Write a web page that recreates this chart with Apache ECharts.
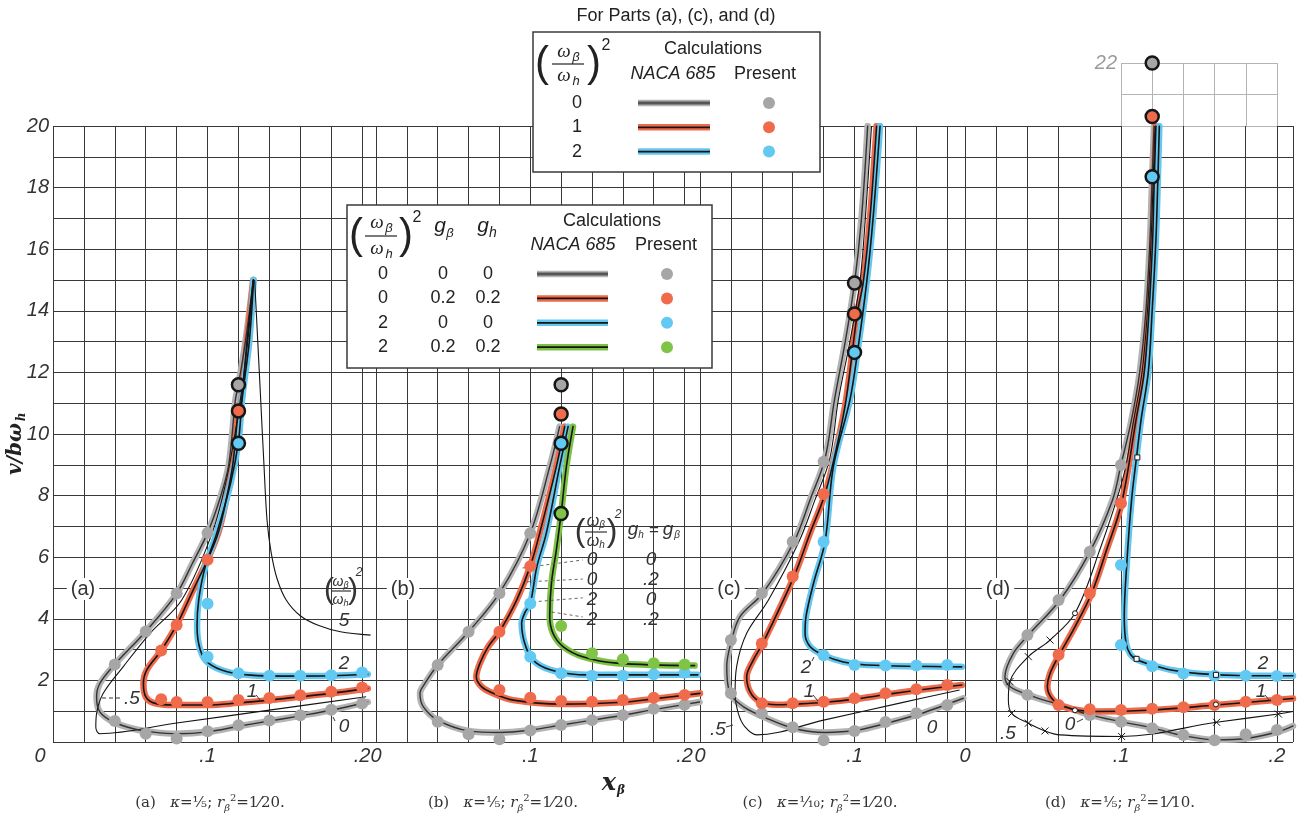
<!DOCTYPE html>
<html>
<head>
<meta charset="utf-8">
<script src="https://cdn.jsdelivr.net/npm/echarts/dist/echarts.min.js"></script>
<style>
  html, body { margin: 0; padding: 0; background: #fff; }
  #chart { width: 1305px; height: 821px; }
</style>
</head>
<body>
<div id="chart"></div>
<script>
// ---------------- tick labels / texts ----------------
const xTickValues = [0, 0.1, 0.2];
const xTickLabels = ['0', '.1', '.2'];
const yTickLabels = ['2', '4', '6', '8', '10', '12', '14', '16', '18', '20'];
const panelNames = ['(a)', '(b)', '(c)', '(d)'];
const captionKappa = ['⅕', '⅕', '⅒', '⅕'];
const captionRb2 = ['1⁄20', '1⁄20', '1⁄20', '1⁄10'];
const legendTopRatio = ['0', '1', '2'];
const legendBRatio = ['0', '0', '2', '2'];
const legendBGbeta = ['0', '0.2', '0', '0.2'];
const legendBGh = ['0', '0.2', '0', '0.2'];
const blockRatio = ['0', '0', '2', '2'];
const blockG = ['0', '.2', '0', '.2'];

// ---------------- panel (a): kappa=1/5, r^2=1/20 ----------------
const aNaca0 = [[0.1296,15.0],[0.1245,13.0],[0.1200,11.6],[0.1180,11.1],[0.1137,9.0],[0.1080,7.9],[0.1000,6.79],[0.0900,5.78],[0.0800,4.82],[0.0600,3.59],[0.0400,2.52],[0.0303,1.90],[0.0282,1.47],[0.0303,0.98],[0.0390,0.65],[0.0520,0.43],[0.0650,0.32],[0.0800,0.27],[0.1000,0.33],[0.1200,0.51],[0.1400,0.68],[0.1600,0.85],[0.1800,1.03],[0.2037,1.30]];
const aNaca1 = [[0.1296,15.0],[0.1255,13.0],[0.1220,11.1],[0.1200,10.75],[0.1163,9.0],[0.1122,7.9],[0.1070,6.8],[0.1000,5.92],[0.0900,4.86],[0.0800,3.80],[0.0700,2.97],[0.0607,2.34],[0.0585,1.90],[0.0600,1.47],[0.0650,1.27],[0.0780,1.20],[0.1000,1.20],[0.1200,1.27],[0.1400,1.36],[0.1600,1.47],[0.1800,1.58],[0.2037,1.74]];
const aNaca2 = [[0.1298,15.0],[0.1270,13.0],[0.1224,11.14],[0.1200,9.75],[0.1150,8.42],[0.1060,6.79],[0.0986,5.71],[0.0943,4.62],[0.0932,3.75],[0.0953,2.99],[0.1008,2.55],[0.1127,2.28],[0.1280,2.17],[0.1495,2.14],[0.1800,2.15],[0.2037,2.20]];
const aThin05 = [[0.1296,15.0],[0.1260,13.0],[0.1213,11.14],[0.1130,8.7],[0.1030,6.79],[0.0834,4.62],[0.0628,3.53],[0.0455,2.45],[0.0325,1.58],[0.0282,0.92],[0.0277,0.49],[0.0303,0.27],[0.0800,0.616],[0.1400,1.034],[0.2026,1.47]];
const aThin5 = [[0.1305,15.0],[0.1325,13.0],[0.1345,11.0],[0.1365,9.0],[0.1385,7.2],[0.1410,6.2],[0.1450,5.3],[0.1510,4.6],[0.1600,4.1],[0.1720,3.78],[0.1860,3.58],[0.2055,3.47]];
const aPres0 = [[0.04,2.52],[0.06,3.59],[0.08,4.82],[0.10,6.79],[0.04,0.68],[0.06,0.27],[0.08,0.11],[0.10,0.35],[0.12,0.54],[0.14,0.70],[0.16,0.87],[0.18,1.05],[0.20,1.25]];
const aPres1 = [[0.10,5.92],[0.08,3.80],[0.07,2.97],[0.07,1.39],[0.08,1.30],[0.10,1.30],[0.12,1.36],[0.14,1.43],[0.16,1.52],[0.18,1.63],[0.20,1.77]];
const aPres2 = [[0.10,4.49],[0.10,2.77],[0.12,2.23],[0.14,2.15],[0.16,2.15],[0.18,2.17],[0.20,2.26]];
const aRing0 = [[0.12,11.6]];
const aRing1 = [[0.12,10.75]];
const aRing2 = [[0.12,9.7]];

// ---------------- panel (b): damping cases ----------------
const bNaca0 = [[0.1190,10.24],[0.1126,8.94],[0.1000,6.78],[0.0800,4.83],[0.0600,3.58],[0.0400,2.50],[0.0317,1.90],[0.0285,1.58],[0.0306,1.15],[0.0403,0.70],[0.0600,0.36],[0.0803,0.31],[0.1000,0.39],[0.1200,0.55],[0.1400,0.71],[0.1600,0.87],[0.1800,1.05],[0.2097,1.30]];
const bNaca1 = [[0.1223,10.24],[0.1169,8.94],[0.1061,6.78],[0.1000,5.71],[0.0911,4.60],[0.0800,3.58],[0.0727,3.09],[0.0673,2.55],[0.0650,2.12],[0.0684,1.80],[0.0760,1.58],[0.0890,1.36],[0.1200,1.23],[0.1600,1.29],[0.1800,1.40],[0.2100,1.58]];
const bNaca2 = [[0.1245,10.24],[0.1190,8.94],[0.1104,6.78],[0.1043,5.70],[0.1000,4.50],[0.0965,4.20],[0.0944,3.85],[0.0975,3.04],[0.1040,2.56],[0.1170,2.29],[0.1364,2.18],[0.2086,2.18]];
const bNaca3 = [[0.1277,10.24],[0.1234,8.94],[0.1200,7.42],[0.1169,6.24],[0.1137,5.16],[0.1126,4.08],[0.1147,3.53],[0.1212,3.10],[0.1340,2.77],[0.1560,2.56],[0.2065,2.48]];
const bPres0 = [[0.04,2.50],[0.06,3.58],[0.08,4.83],[0.10,6.78],[0.04,0.66],[0.06,0.25],[0.08,0.09],[0.10,0.37],[0.12,0.55],[0.14,0.71],[0.16,0.87],[0.18,1.08],[0.20,1.21]];
const bPres1 = [[0.10,5.71],[0.08,3.58],[0.08,1.69],[0.10,1.44],[0.12,1.33],[0.14,1.31],[0.16,1.36],[0.18,1.44],[0.20,1.53]];
const bPres2 = [[0.10,4.50],[0.10,2.77],[0.12,2.23],[0.14,2.15],[0.16,2.15],[0.18,2.20],[0.20,2.25]];
const bPres3 = [[0.12,3.77],[0.14,2.88],[0.16,2.69],[0.18,2.56],[0.20,2.52]];
const bRing0 = [[0.12,11.6]];
const bRing1 = [[0.12,10.65]];
const bRing2 = [[0.12,9.7]];
const bRing3 = [[0.12,7.42]];
const bLeader1 = [[0.095,5.65],[0.134,5.91]];
const bLeader2 = [[0.0977,5.20],[0.134,5.29]];
const bLeader3 = [[0.1016,4.55],[0.134,4.68]];
const bLeader4 = [[0.1139,4.22],[0.134,4.06]];

// ---------------- panel (c): kappa=1/10, r^2=1/20 ----------------
const cNaca0 = [[0.1085,20.0],[0.1045,17.0],[0.1000,14.9],[0.0940,13.0],[0.0870,11.1],[0.0809,9.2],[0.0712,7.86],[0.0608,6.50],[0.0406,4.83],[0.0259,4.07],[0.0205,3.31],[0.0173,2.45],[0.0194,1.58],[0.0280,1.15],[0.0431,0.77],[0.0608,0.44],[0.0809,0.31],[0.1014,0.38],[0.1215,0.62],[0.1417,0.90],[0.1704,1.42]];
const cThin05 = [[0.1110,20.0],[0.1070,17.0],[0.1035,14.94],[0.0970,13.0],[0.0895,11.1],[0.0840,9.2],[0.0744,7.86],[0.0640,6.50],[0.0442,4.60],[0.0302,3.53],[0.0237,2.45],[0.0227,1.58],[0.0248,0.93],[0.0290,0.50],[0.0367,0.23],[0.0800,0.71],[0.1300,1.27],[0.1680,1.69]];
const cNaca1 = [[0.1143,20.0],[0.1100,17.0],[0.1057,14.94],[0.1018,13.92],[0.0945,11.1],[0.0890,9.7],[0.0809,8.05],[0.0712,6.78],[0.0608,5.37],[0.0406,3.20],[0.0345,2.66],[0.0302,2.12],[0.0324,1.63],[0.0388,1.31],[0.0496,1.21],[0.0608,1.23],[0.0809,1.29],[0.1014,1.40],[0.1215,1.55],[0.1417,1.69],[0.1694,1.85]];
const cNaca2 = [[0.1165,20.0],[0.1120,17.0],[0.1079,14.94],[0.1019,12.65],[0.0970,11.1],[0.0863,8.94],[0.0809,6.50],[0.0734,5.14],[0.0686,4.07],[0.0680,3.53],[0.0712,3.10],[0.0798,2.82],[0.0928,2.60],[0.1079,2.50],[0.1694,2.44]];
const cPres0 = [[0.08,9.10],[0.06,6.50],[0.04,4.83],[0.02,3.31],[0.02,1.58],[0.04,0.93],[0.06,0.48],[0.08,0.06],[0.10,0.36],[0.12,0.65],[0.14,0.93],[0.16,1.20]];
const cPres1 = [[0.08,8.05],[0.06,5.37],[0.04,3.20],[0.04,1.26],[0.06,1.26],[0.08,1.31],[0.10,1.42],[0.12,1.58],[0.14,1.71],[0.16,1.85]];
const cPres2 = [[0.08,6.50],[0.08,2.82],[0.10,2.50],[0.12,2.48],[0.14,2.48],[0.16,2.50]];
const cRing0 = [[0.10,14.9]];
const cRing1 = [[0.10,13.9]];
const cRing2 = [[0.10,12.65]];

// ---------------- panel (d): kappa=1/5, r^2=1/10 ----------------
const dNaca0 = [[0.1212,20.0],[0.1198,18.0],[0.1186,16.3],[0.1160,14.0],[0.1120,12.0],[0.1065,10.4],[0.1000,9.0],[0.0946,7.86],[0.0801,6.18],[0.0609,4.61],[0.0406,3.47],[0.0310,2.88],[0.0256,2.12],[0.0288,1.80],[0.0406,1.53],[0.0609,1.20],[0.0801,0.88],[0.1000,0.66],[0.1207,0.45],[0.1404,0.20],[0.1609,0.07],[0.1809,0.12],[0.2013,0.34],[0.2103,0.52]];
const dNaca1 = [[0.1224,20.0],[0.1212,18.0],[0.1203,16.3],[0.1180,14.0],[0.1149,12.0],[0.1098,10.5],[0.1004,7.75],[0.0908,6.24],[0.0812,4.83],[0.0705,3.74],[0.0609,2.87],[0.0545,2.22],[0.0528,1.80],[0.0556,1.42],[0.0631,1.15],[0.0823,0.99],[0.1207,1.04],[0.1609,1.20],[0.2103,1.41]];
const dNaca2 = [[0.1246,20.0],[0.1235,18.0],[0.1224,16.3],[0.1200,14.0],[0.1175,12.0],[0.1130,10.5],[0.1100,9.26],[0.1068,7.86],[0.1036,5.69],[0.1021,4.07],[0.1033,3.20],[0.1060,2.85],[0.1100,2.68],[0.1200,2.50],[0.1330,2.33],[0.1500,2.22],[0.1750,2.16],[0.2103,2.15]];
const dThin05 = [[0.1218,20.0],[0.1205,18.0],[0.1193,16.3],[0.1170,14.0],[0.1135,12.0],[0.1080,10.4],[0.1015,8.61],[0.0860,6.18],[0.0705,4.18],[0.0545,3.31],[0.0406,2.77],[0.0288,1.96],[0.0278,1.37],[0.0299,0.93],[0.0406,0.61],[0.0513,0.36],[0.0609,0.23],[0.1004,0.18],[0.1613,0.64],[0.2009,0.91],[0.2103,0.99]];
const dCross = [[0.0545,3.31],[0.0406,2.77],[0.0288,1.96],[0.0299,0.93],[0.0406,0.61],[0.0513,0.36],[0.1004,0.18],[0.1613,0.64],[0.2009,0.91]];
const dSmallCircle = [[0.0705,4.18],[0.0705,1.03],[0.1609,1.22]];
const dSmallSquare = [[0.1105,9.24],[0.1100,2.70],[0.1609,2.18]];
const dPres0 = [[0.10,8.99],[0.08,6.18],[0.06,4.61],[0.04,3.47],[0.04,1.53],[0.08,0.88],[0.10,0.66],[0.12,0.45],[0.14,0.23],[0.16,0.06],[0.18,0.25],[0.20,0.39]];
const dPres1 = [[0.10,7.75],[0.08,4.83],[0.06,2.83],[0.06,1.20],[0.08,1.06],[0.10,1.04],[0.12,1.08],[0.14,1.13],[0.16,1.20],[0.18,1.31],[0.20,1.36]];
const dPres2 = [[0.10,5.75],[0.10,3.15],[0.12,2.46],[0.14,2.22],[0.16,2.15],[0.18,2.15],[0.20,2.14]];
const dRing2 = [[0.12,18.35]];
// values above v/bw_h = 20 go on the extension strip
const eRing0 = [[0.12,22.0]];
const eRing1 = [[0.12,20.3]];

// ---------------- styling ----------------
const GRID_COLOR = '#383838';
const SMOOTH = 0.35;
const HALO = { gray: '#b3b3b3', red: '#ee6a4b', blue: '#63c7ef', green: '#7cc144' };
const CORE = { gray: '#333333', red: '#151515', blue: '#151515', green: '#151515' };
const DOT = { gray: '#a6a6a6', red: '#f06b4b', blue: '#62c9f3', green: '#80c447' };
const HAND = '"Liberation Sans"';
const INK = '#333';

const near = (a, b) => Math.abs(a - b) < 1e-6;

// panel frames: left edge / width in px, x extent
const frames = [
  { left: 53,  width: 323, xmax: 0.209,  labelled: [0, 1, 2] },
  { left: 376, width: 324, xmax: 0.21,   labelled: [0, 1, 2] },
  { left: 700, width: 265, xmax: 0.1715, labelled: [0, 1] },
  { left: 965, width: 328, xmax: 0.2103, labelled: [0, 1, 2] }
];

const grids = frames.map(f => ({ left: f.left, top: 126, width: f.width, height: 616, containLabel: false, outerBoundsMode: 'none' }));
grids.push({ left: 1121, top: 63, width: 156, height: 63, containLabel: false, outerBoundsMode: 'none' });

const labelFont = { color: INK, fontStyle: 'italic', fontFamily: HAND, fontSize: 20 };

const xAxes = frames.map((f, gi) => ({
  type: 'value', gridIndex: gi, min: 0, max: f.xmax, interval: 0.02,
  axisLine: { show: false }, axisTick: { show: false },
  splitLine: { show: true, lineStyle: { color: GRID_COLOR, width: 1 } },
  axisLabel: Object.assign({
    show: true, margin: 4, hideOverlap: false, showMinLabel: true, showMaxLabel: true,
    formatter: v => {
      const k = xTickValues.findIndex(t => near(t, v));
      if (k < 0 || !f.labelled.includes(k)) return '';
      return (gi === 0 && k === 0) ? '{z|0}' : xTickLabels[k];
    },
    rich: { z: Object.assign({ padding: [0, 26, 0, 0] }, labelFont) }
  }, labelFont)
}));
xAxes.push({
  type: 'value', gridIndex: 4, min: 0.1, max: 0.2, interval: 0.02,
  axisLine: { show: false }, axisTick: { show: false }, axisLabel: { show: false },
  splitLine: { show: true, lineStyle: { color: '#b4b4b4', width: 1 } }
});

const yAxes = frames.map((f, gi) => ({
  type: 'value', gridIndex: gi, min: 0, max: 20, interval: 1,
  axisLine: { show: false }, axisTick: { show: false },
  splitLine: { show: true, lineStyle: { color: GRID_COLOR, width: 1 } },
  axisLabel: Object.assign({
    show: gi === 0, margin: 4, showMinLabel: true, showMaxLabel: true,
    formatter: v => { const s = String(v); return yTickLabels.includes(s) ? s : ''; }
  }, labelFont)
}));
yAxes.push({
  type: 'value', gridIndex: 4, min: 20, max: 22, interval: 1,
  axisLine: { show: false }, axisTick: { show: false },
  splitLine: { show: true, lineStyle: { color: '#b4b4b4', width: 1 } },
  axisLabel: Object.assign({}, labelFont, { show: true, margin: 4, color: '#9a9a9a', showMaxLabel: true,
    formatter: v => (v === 22 ? '22' : '') })
});

// ---------------- series builders ----------------
const series = [];
function naca(gi, data, key) {
  series.push({ type: 'line', xAxisIndex: gi, yAxisIndex: gi, data, smooth: SMOOTH, symbol: 'none', silent: true, z: 2,
    animation: false, lineStyle: { color: HALO[key], width: 6.5, cap: 'round', join: 'round' } });
  series.push({ type: 'line', xAxisIndex: gi, yAxisIndex: gi, data, smooth: SMOOTH, symbol: 'none', silent: true, z: 3,
    animation: false, lineStyle: { color: CORE[key], width: key === 'gray' ? 1.4 : 1.6, cap: 'round', join: 'round' } });
}
function thin(gi, data, type) {
  series.push({ type: 'line', xAxisIndex: gi, yAxisIndex: gi, data, smooth: SMOOTH, symbol: 'none', silent: true, z: 3,
    animation: false, lineStyle: { color: '#141414', width: 1.1, type: type || 'solid' } });
}
function leader(gi, data) {
  series.push({ type: 'line', xAxisIndex: gi, yAxisIndex: gi, data, symbol: 'none', silent: true, z: 3,
    animation: false, lineStyle: { color: '#555', width: 0.9, type: [3, 3] } });
}
function dots(gi, data, key) {
  series.push({ type: 'scatter', xAxisIndex: gi, yAxisIndex: gi, data, symbol: 'circle', symbolSize: 12, silent: true, z: 5,
    animation: false, itemStyle: { color: DOT[key], opacity: 1 } });
}
function rings(gi, data, key) {
  series.push({ type: 'scatter', xAxisIndex: gi, yAxisIndex: gi, data, symbol: 'circle', symbolSize: 13, silent: true, z: 6,
    animation: false, itemStyle: { color: DOT[key], borderColor: '#161616', borderWidth: 2.5, opacity: 1 } });
}
function marks(gi, data, symbol, size) {
  series.push({ type: 'scatter', xAxisIndex: gi, yAxisIndex: gi, data, symbol, symbolSize: size, silent: true, z: 6,
    animation: false, itemStyle: { color: symbol.startsWith('path') ? 'none' : '#fff', borderColor: '#161616', borderWidth: 1, opacity: 1 } });
}

// (a)
thin(0, aThin05); thin(0, aThin5);
naca(0, aNaca0, 'gray'); naca(0, aNaca1, 'red'); naca(0, aNaca2, 'blue');
dots(0, aPres0, 'gray'); dots(0, aPres1, 'red'); dots(0, aPres2, 'blue');
rings(0, aRing0, 'gray'); rings(0, aRing1, 'red'); rings(0, aRing2, 'blue');
// (b)
naca(1, bNaca0, 'gray'); naca(1, bNaca1, 'red'); naca(1, bNaca2, 'blue'); naca(1, bNaca3, 'green');
leader(1, bLeader1); leader(1, bLeader2); leader(1, bLeader3); leader(1, bLeader4);
dots(1, bPres0, 'gray'); dots(1, bPres1, 'red'); dots(1, bPres2, 'blue'); dots(1, bPres3, 'green');
rings(1, bRing0, 'gray'); rings(1, bRing1, 'red'); rings(1, bRing2, 'blue'); rings(1, bRing3, 'green');
// (c)
thin(2, cThin05);
naca(2, cNaca0, 'gray'); naca(2, cNaca1, 'red'); naca(2, cNaca2, 'blue');
dots(2, cPres0, 'gray'); dots(2, cPres1, 'red'); dots(2, cPres2, 'blue');
rings(2, cRing0, 'gray'); rings(2, cRing1, 'red'); rings(2, cRing2, 'blue');
// (d)
thin(3, dThin05);
naca(3, dNaca0, 'gray'); naca(3, dNaca1, 'red'); naca(3, dNaca2, 'blue');
marks(3, dCross, 'path://M0,0L10,10M10,0L0,10', 7);
marks(3, dSmallCircle, 'circle', 5);
marks(3, dSmallSquare, 'rect', 5);
dots(3, dPres0, 'gray'); dots(3, dPres1, 'red'); dots(3, dPres2, 'blue');
rings(3, dRing2, 'blue');
rings(4, eRing0, 'gray'); rings(4, eRing1, 'red');

// ---------------- annotation graphics ----------------
const G = [];
function txt(x, y, text, font, extra) {
  G.push({ type: 'text', x, y, z: 60, silent: true,
    style: Object.assign({ text, font, fill: INK, align: 'center', verticalAlign: 'middle' }, extra || {}) });
}
function seg(x1, y1, x2, y2, stroke, w, z) {
  G.push({ type: 'line', z: z || 58, silent: true, shape: { x1, y1, x2, y2 }, style: { stroke, lineWidth: w } });
}
function box(x, y, w, h) {
  G.push({ type: 'rect', z: 50, silent: true, shape: { x, y, width: w, height: h }, style: { fill: '#fff', stroke: '#3a3a3a', lineWidth: 1.5 } });
}
// (omega_beta / omega_h)^2 group
function ratio(cx, cy, o) {
  txt(cx - o.pdx, cy, '(', `${o.ps}px ${o.pf}`, { fill: o.c });
  txt(cx + o.pdx, cy, ')', `${o.ps}px ${o.pf}`, { fill: o.c });
  txt(cx - o.sx, cy - o.gap, 'ω', `italic ${o.ws}px ${o.wf}`, { fill: o.c });
  txt(cx + o.sx2, cy - o.gap + o.sdy, 'β', `italic ${o.ss}px ${o.sf}`, { fill: o.c });
  seg(cx - o.bh, cy, cx + o.bh, cy, o.c, 1.2, 60);
  txt(cx - o.sx, cy + o.gap, 'ω', `italic ${o.ws}px ${o.wf}`, { fill: o.c });
  txt(cx + o.sx2, cy + o.gap + o.sdy, 'h', `italic ${o.ss}px ${o.sf}`, { fill: o.c });
  txt(cx + o.pdx + o.qx, cy - o.qy, '2', `${o.qi ? 'italic ' : ''}${o.qs}px ${o.qf}`, { fill: o.c });
}

// legend for parts (a), (c), (d)
txt(676, 16, 'For Parts (a), (c), and (d)', '18px "Liberation Sans"', { fill: '#222' });
box(533, 32, 287, 140);
ratio(568, 64, { pdx: 26, ps: 42, pf: '"Liberation Sans"', c: '#222', gap: 12, ws: 19, wf: '"Liberation Serif"', sx: 4, sx2: 8, sdy: 5,
  ss: 13, sf: '"Liberation Sans"', bh: 16, qx: 12, qy: 18, qs: 16, qf: '"Liberation Sans"' });
txt(713, 49, 'Calculations', '18px "Liberation Sans"', { fill: '#222' });
txt(673, 74, 'NACA 685', 'italic 18px "Liberation Sans"', { fill: '#222' });
txt(765, 74, 'Present', '18px "Liberation Sans"', { fill: '#222' });
const topKeys = ['gray', 'red', 'blue'];
legendTopRatio.forEach((r, i) => {
  const y = 103 + i * 24.3;
  txt(577, y, r, '18px "Liberation Sans"', { fill: '#222' });
  seg(638, y, 710, y, HALO[topKeys[i]], 6.5, 59);
  seg(638, y, 710, y, i === 0 ? '#555' : '#151515', i === 0 ? 3 : 1.8, 60);
  G.push({ type: 'circle', z: 60, silent: true, shape: { cx: 769, cy: y, r: 6 }, style: { fill: DOT[topKeys[i]] } });
});

// legend for part (b)
box(347, 205, 365, 163);
ratio(381, 236, { pdx: 25, ps: 42, pf: '"Liberation Sans"', c: '#222', gap: 13, ws: 19, wf: '"Liberation Serif"', sx: 4, sx2: 8, sdy: 5,
  ss: 13, sf: '"Liberation Sans"', bh: 16, qx: 11, qy: 18, qs: 16, qf: '"Liberation Sans"' });
txt(440, 226, 'g', 'italic 21px "Liberation Sans"', { fill: '#222' });
txt(450, 233, 'β', 'italic 13px "Liberation Sans"', { fill: '#222' });
txt(483, 226, 'g', 'italic 21px "Liberation Sans"', { fill: '#222' });
txt(493, 233, 'h', 'italic 14px "Liberation Sans"', { fill: '#222' });
txt(612, 221, 'Calculations', '18px "Liberation Sans"', { fill: '#222' });
txt(573, 245, 'NACA 685', 'italic 18px "Liberation Sans"', { fill: '#222' });
txt(666, 245, 'Present', '18px "Liberation Sans"', { fill: '#222' });
const bKeys = ['gray', 'red', 'blue', 'green'];
legendBRatio.forEach((r, i) => {
  const y = 274 + i * 24.4;
  txt(383, y, r, '18px "Liberation Sans"', { fill: '#222' });
  txt(443, y, legendBGbeta[i], '18px "Liberation Sans"', { fill: '#222' });
  txt(488, y, legendBGh[i], '18px "Liberation Sans"', { fill: '#222' });
  seg(537, y, 608, y, HALO[bKeys[i]], 6.5, 59);
  seg(537, y, 608, y, i === 0 ? '#555' : '#151515', i === 0 ? 3 : 1.8, 60);
  G.push({ type: 'circle', z: 60, silent: true, shape: { cx: 667, cy: y, r: 6 }, style: { fill: DOT[bKeys[i]] } });
});

// panel tags sitting on the v/bw_h = 5 line
const tagX = [83, 403, 729, 998];
panelNames.forEach((n, i) => txt(tagX[i], 589, n, '20px "Liberation Sans"',
  { fill: INK, backgroundColor: '#fff', padding: [1, 4, 1, 4] }));

// curve labels, panel (a)
ratio(341, 591, { pdx: 12, ps: 30, pf: HAND, c: INK, gap: 9, ws: 14, wf: HAND, sx: 3, sx2: 5, sdy: 3,
  ss: 9, sf: HAND, bh: 10, qx: 6, qy: 18, qs: 12, qf: HAND, qi: true });
const handFont = `italic 19px ${HAND}`;
txt(344, 621, '5', handFont);
txt(344, 664, '2', handFont);
txt(252, 692, '1', handFont); seg(256, 695, 261, 701, INK, 1);
txt(344, 727, '0', handFont); seg(333, 717, 335, 721, INK, 1);
txt(132, 699, '.5', handFont); seg(102, 698, 123, 698, INK, 1);
G[G.length - 1].style.lineDash = [4, 3];

// panel (b) label block
ratio(596, 532, { pdx: 16, ps: 32, pf: HAND, c: INK, gap: 10, ws: 16, wf: HAND, sx: 3, sx2: 6, sdy: 3,
  ss: 10, sf: HAND, bh: 11, qx: 6, qy: 17, qs: 12, qf: HAND, qi: true });
txt(633, 530, 'g', `italic 19px ${HAND}`); txt(641, 535, 'h', `italic 10px ${HAND}`);
txt(654, 530, '=', `17px ${HAND}`);
txt(668, 530, 'g', `italic 19px ${HAND}`); txt(677, 535, 'β', `italic 10px ${HAND}`);
blockRatio.forEach((r, i) => {
  const y = 560 + i * 19.8;
  txt(592, y, r, handFont);
  txt(651, y, blockG[i], handFont);
});

// curve labels, panel (c)
txt(806, 668, '2', handFont); seg(812, 661, 814, 657, INK, 1);
txt(809, 692, '1', handFont); seg(813, 695, 818, 701, INK, 1);
txt(932, 728, '0', handFont);
txt(718, 730, '.5', handFont); seg(726, 727, 733, 725, INK, 1);

// curve labels, panel (d)
txt(1263, 664, '2', handFont);
txt(1261, 692, '1', handFont); seg(1265, 695, 1270, 701, INK, 1);
txt(1070, 725, '0', handFont); seg(1077, 722, 1083, 719, INK, 1);
txt(1008, 734, '.5', handFont);

// axis titles
G.push({ type: 'group', x: 16, y: 443, rotation: Math.PI / 2, z: 60, silent: true, children: [
  { type: 'text', x: -6, y: 0, style: { text: 'v/bω', font: 'italic bold 20px "DejaVu Serif"', fill: '#222', align: 'center', verticalAlign: 'middle' } },
  { type: 'text', x: 26, y: 6, style: { text: 'h', font: 'italic bold 12px "DejaVu Serif"', fill: '#222', align: 'center', verticalAlign: 'middle' } }
] });
txt(609, 784, 'x', 'italic bold 24px "DejaVu Serif"', { fill: '#222' });
txt(621, 791, 'β', 'italic bold 12px "DejaVu Serif"', { fill: '#222' });

// captions under the panels
const capX = [210, 503, 820, 1120];
const capRich = {
  n: { fontFamily: 'DejaVu Serif', fontSize: 15, lineHeight: 20, color: '#333' },
  i: { fontFamily: 'DejaVu Serif', fontStyle: 'italic', fontSize: 15, lineHeight: 20, color: '#333' },
  sb: { fontFamily: 'DejaVu Serif', fontStyle: 'italic', fontSize: 10, lineHeight: 12, verticalAlign: 'bottom', color: '#333' },
  sp: { fontFamily: 'DejaVu Serif', fontSize: 10, lineHeight: 12, verticalAlign: 'top', color: '#333' }
};
panelNames.forEach((n, i) => {
  G.push({ type: 'text', x: capX[i], y: 803, z: 60, silent: true, style: {
    text: `{n|${n}   }{i|κ}{n|=${captionKappa[i]}; }{i|r}{sb|β}{sp|2}{n|=${captionRb2[i]}.}`,
    rich: capRich, align: 'center', verticalAlign: 'middle', fill: '#333' } });
});

const chart = echarts.init(document.getElementById('chart'), null, { renderer: 'canvas' });
chart.setOption({
  backgroundColor: '#fff',
  animation: false,
  grid: grids,
  xAxis: xAxes,
  yAxis: yAxes,
  series: series,
  graphic: { elements: G }
});
</script>
</body>
</html>
